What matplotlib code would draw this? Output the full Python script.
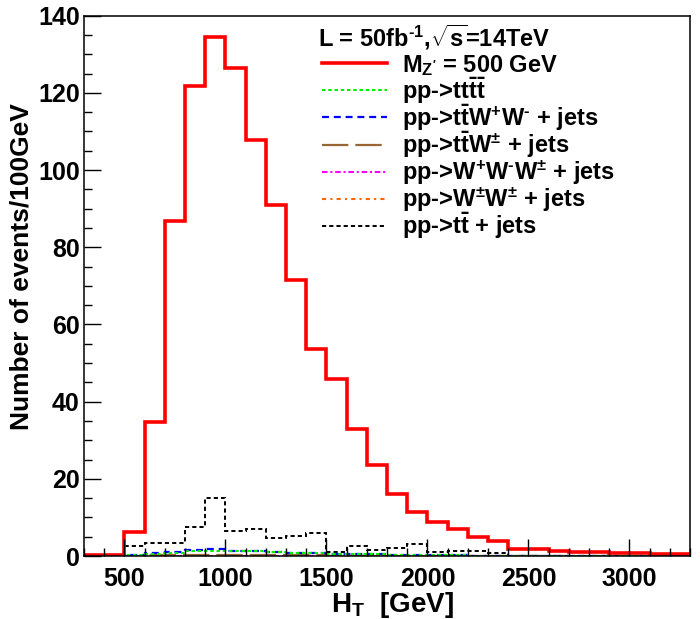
import numpy as np
import matplotlib
matplotlib.use("Agg")
import matplotlib.pyplot as plt
from matplotlib.ticker import MultipleLocator

plt.rcParams['font.family'] = ['Liberation Sans', 'DejaVu Sans']
plt.rcParams['font.weight'] = 'bold'
plt.rcParams['axes.labelweight'] = 'bold'
plt.rcParams['mathtext.fontset'] = 'custom'
plt.rcParams['mathtext.rm'] = 'Liberation Sans:bold'
plt.rcParams['mathtext.it'] = 'Liberation Sans:bold'
plt.rcParams['mathtext.bf'] = 'Liberation Sans:bold'
plt.rcParams['mathtext.default'] = 'rm'
plt.rcParams['lines.scale_dashes'] = False

# bin edges, 100 GeV wide, 300 -> 3300
edges = np.arange(300, 3301, 100)

# signal, M_Z' = 500 GeV
signal = [0.3, 0.3, 6.2, 34.6, 86.8, 121.7, 134.6, 126.4, 107.8, 90.9,
          71.4, 53.6, 45.9, 32.8, 23.5, 16.0, 11.3, 8.8, 7.1, 4.9,
          3.8, 1.9, 1.7, 1.2, 1.1, 1.0, 0.9, 0.7, 0.6, 0.5]
# backgrounds
tttt = [0.0, 0.0, 0.2, 0.5, 0.8, 1.2, 1.3, 1.3, 1.2, 1.0,
        0.9, 0.7, 0.6, 0.5, 0.4, 0.3, 0.25, 0.2, 0.15, 0.1,
        0.08, 0.06, 0.05, 0.04, 0.03, 0.02, 0.02, 0.01, 0.01, 0.01]
ttww = [0.0, 0.0, 0.2, 0.8, 1.1, 1.5, 1.7, 1.3, 1.3, 1.0,
        0.9, 0.9, 0.6, 0.5, 0.6, 0.3, 0.3, 0.2, 0.2, 0.1,
        0.1, 0.05, 0.05, 0.03, 0.02, 0.02, 0.01, 0.01, 0.0, 0.0]
ttw = [0.0, 0.0, 0.1, 0.2, 0.25, 0.3, 0.3, 0.3, 0.25, 0.2,
       0.2, 0.15, 0.12, 0.1, 0.08, 0.06, 0.05, 0.04, 0.03, 0.02,
       0.02, 0.01, 0.01, 0.01, 0.0, 0.0, 0.0, 0.0, 0.0, 0.0]
www = [0.0, 0.0, 0.02, 0.05, 0.06, 0.08, 0.08, 0.07, 0.06, 0.05,
       0.05, 0.04, 0.03, 0.03, 0.02, 0.02, 0.01, 0.01, 0.01, 0.01,
       0.0, 0.0, 0.0, 0.0, 0.0, 0.0, 0.0, 0.0, 0.0, 0.0]
ww = [0.0, 0.0, 0.03, 0.06, 0.08, 0.1, 0.1, 0.09, 0.08, 0.07,
      0.06, 0.05, 0.04, 0.03, 0.03, 0.02, 0.02, 0.01, 0.01, 0.01,
      0.01, 0.0, 0.0, 0.0, 0.0, 0.0, 0.0, 0.0, 0.0, 0.0]
tt = [0.0, 0.0, 2.7, 3.3, 3.3, 7.5, 15.1, 6.5, 7.1, 4.7,
      5.1, 6.0, 1.1, 2.7, 1.6, 2.0, 3.0, 1.1, 1.4, 1.4,
      0.9, 0.0, 0.0, 0.0, 0.0, 0.0, 0.0, 0.0, 0.0, 0.0]

series = [
    (signal, "M$_{Z'}$ = 500 GeV", '#ff0000', 2.6, '-'),
    (tttt, r"pp->tt$\bar{\mathrm{t}}\bar{\mathrm{t}}$", '#00ee00', 1.5, (0, (2.5, 2))),
    (ttww, r"pp->t$\bar{\mathrm{t}}$W$^{+}$W$^{\text{-}}$ + jets", '#0000ff', 1.6, (0, (5, 3.5))),
    (ttw, r"pp->t$\bar{\mathrm{t}}$W$^{\pm}$ + jets", '#996633', 1.6, (0, (19, 5))),
    (www, r"pp->W$^{+}$W$^{\text{-}}$W$^{\pm}$ + jets", '#ff00ff', 1.5, (0, (4, 2, 1.5, 2))),
    (ww, r"pp->W$^{\pm}$W$^{\pm}$ + jets", '#ff6600', 1.5, (0, (3, 3, 1.5, 3))),
    (tt, r"pp->t$\bar{\mathrm{t}}$ + jets", '#000000', 1.4, (0, (3, 2.2))),
]

W, H = 700, 619
fig = plt.figure(figsize=(W / 100, H / 100), dpi=100)
x0, x1, y0, y1 = 84, 690, 15.7, 556
ax = fig.add_axes([x0 / W, 1 - y1 / H, (x1 - x0) / W, (y1 - y0) / H])

# draw backgrounds first, signal on top
for vals, lab, col, lw, ls in series[::-1]:
    ax.stairs(vals, edges, color=col, linewidth=lw, linestyle=ls, baseline=None)

ax.set_xlim(300, 3300)
ax.set_ylim(0, 140)
ax.xaxis.set_major_locator(MultipleLocator(500))
ax.xaxis.set_minor_locator(MultipleLocator(100))
ax.yaxis.set_major_locator(MultipleLocator(20))
ax.yaxis.set_minor_locator(MultipleLocator(5))
ax.tick_params(which='both', direction='in', top=False, right=False, width=1)
ax.tick_params(which='major', length=12, labelsize=18)
ax.tick_params(axis='x', which='major', pad=8)
ax.tick_params(axis='y', which='major', pad=3)
ax.tick_params(which='minor', length=6)
for s in ax.spines.values():
    s.set_linewidth(1.1)

ax.set_xlabel("H$_{T}$  [GeV]", fontsize=20, va='center')
ax.xaxis.set_label_coords((392 - x0) / (x1 - x0), (y1 - 605) / (y1 - y0))
ax.set_ylabel("Number of events/100GeV", fontsize=19, va='center')
ax.yaxis.set_label_coords((22 - x0) / (x1 - x0), (y1 - 267) / (y1 - y0))

# legend, ROOT style
def fx(px):
    return (px - x0) / (x1 - x0)

def fy(py):
    return (y1 - py) / (y1 - y0)

ax.text(fx(318), fy(46), r"L = 50fb$^{\text{-}1}$,$\sqrt{\mathrm{s}}$=14TeV", transform=ax.transAxes,
        fontsize=17, va='baseline', ha='left')
for i, (vals, lab, col, lw, ls) in enumerate(series):
    yc = 63.3 + 27.07 * i
    ax.plot([fx(322), fx(387)], [fy(yc), fy(yc)], transform=ax.transAxes,
            color=col, linewidth=lw, linestyle=ls, clip_on=False)
    ax.text(fx(402), fy(yc + 8.5), lab, transform=ax.transAxes,
            fontsize=17, va='baseline', ha='left')

fig.savefig("out.png", dpi=100)
